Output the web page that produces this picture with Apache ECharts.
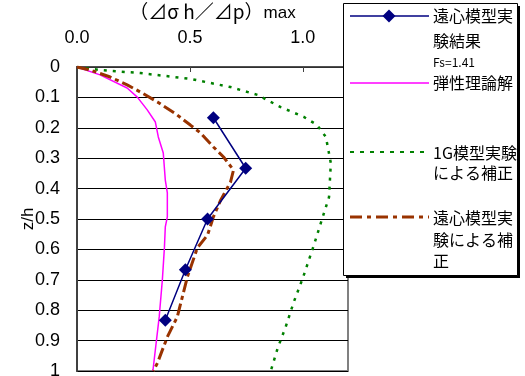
<!DOCTYPE html>
<html>
<head>
<meta charset="utf-8">
<script src="https://cdn.jsdelivr.net/npm/echarts@6/dist/echarts.min.js"></script>
<style>
  html, body { margin: 0; padding: 0; background: #fff; }
  #chart { width: 525px; height: 376px; }
</style>
</head>
<body>
<div id="chart"></div>
<script>
// 遠心模型実験結果 Fs=1.41
const centZ = [0.167, 0.333, 0.5, 0.667, 0.833]
const centX = [0.604, 0.747, 0.578, 0.48, 0.391]

// 弾性理論解
const elasZ = [0, 0.026, 0.069, 0.099, 0.141, 0.181, 0.23, 0.283, 0.372, 0.414, 0.493, 0.526, 0.595, 0.7, 0.822, 1.0]
const elasX = [0, 0.102, 0.222, 0.267, 0.311, 0.347, 0.36, 0.382, 0.391, 0.4, 0.4, 0.391, 0.387, 0.378, 0.364, 0.336]

// 1G模型実験による補正
const oneGZ = [0, 0.01, 0.02, 0.039, 0.066, 0.092, 0.132, 0.164, 0.19, 0.23, 0.316, 0.428, 0.503, 0.586, 0.694, 0.773, 0.855, 0.924, 1.0]
const oneGX = [0, 0.102, 0.28, 0.502, 0.68, 0.8, 0.902, 1.004, 1.062, 1.102, 1.124, 1.116, 1.084, 1.049, 1.0, 0.96, 0.924, 0.889, 0.858]

// 遠心模型実験による補正
const corrZ = [0, 0.01, 0.033, 0.059, 0.082, 0.115, 0.158, 0.191, 0.217, 0.263, 0.296, 0.339, 0.378, 0.438, 0.493, 0.553, 0.595, 0.69, 0.822, 0.888, 0.974, 1.0]
const corrX = [0, 0.058, 0.147, 0.222, 0.28, 0.356, 0.444, 0.502, 0.547, 0.604, 0.649, 0.693, 0.68, 0.636, 0.604, 0.578, 0.533, 0.489, 0.444, 0.4, 0.356, 0.338]

const pairs = (xs, zs) => xs.map((x, i) => [x, zs[i]])

const jp = '"Noto Sans CJK JP", sans-serif'
const num = '"Liberation Sans", Arial, sans-serif'

const chart = echarts.init(document.getElementById('chart'))

const legendText = (x, y, text, size) => ({
  type: 'text', x: x, y: y, z: 20,
  style: { text: text, fill: '#000', font: (size || 16) + 'px ' + jp, textVerticalAlign: 'middle' }
})

chart.setOption({
  animation: false,
  grid: {
    left: 77, top: 67, right: 177, bottom: 5,
    outerBoundsMode: 'none',
    show: true, borderColor: '#808080', borderWidth: 2
  },
  xAxis: {
    type: 'value', position: 'top',
    min: 0, max: 1.2, interval: 0.5,
    name: '{a|（⊿σ h／⊿p）}{b|max}',
    nameLocation: 'middle', nameGap: 45, nameMoveOverlap: false,
    nameTextStyle: {
      rich: {
        a: { fontSize: 19, fontFamily: jp, color: '#000' },
        b: { fontSize: 17, fontFamily: num, color: '#000', padding: [3, 0, 0, 0] }
      }
    },
    axisLine: { lineStyle: { color: '#404040', width: 1.5 } },
    axisTick: { show: true, inside: true, length: 5, lineStyle: { color: '#404040' } },
    axisLabel: {
      showMaxLabel: false, margin: 20, fontSize: 18, fontFamily: num, color: '#000',
      formatter: v => v.toFixed(1)
    },
    splitLine: { show: false }
  },
  yAxis: {
    type: 'value', inverse: true,
    min: 0, max: 1, interval: 0.1,
    name: 'z/h', nameLocation: 'middle', nameGap: 40, nameRotate: 90, nameMoveOverlap: false,
    nameTextStyle: { fontSize: 17, fontFamily: num, color: '#000' },
    axisLine: { lineStyle: { color: '#404040', width: 2 } },
    axisTick: { show: false },
    axisLabel: {
      margin: 17, fontSize: 18, fontFamily: num, color: '#000',
      formatter: v => (v === 0 ? '0' : Math.abs(v - 1) < 1e-9 ? '1' : v.toFixed(1))
    },
    splitLine: { show: true, lineStyle: { color: '#000', width: 1 } }
  },
  series: [
    {
      name: '1G模型実験による補正', type: 'line', data: pairs(oneGX, oneGZ),
      showSymbol: false, smooth: false,
      lineStyle: { color: '#008000', width: 2.5, type: [3, 6] }
    },
    {
      name: '弾性理論解', type: 'line', data: pairs(elasX, elasZ),
      showSymbol: false,
      lineStyle: { color: '#ff00ff', width: 1.5 }
    },
    {
      name: '遠心模型実験による補正', type: 'line', data: pairs(corrX, corrZ),
      showSymbol: false,
      lineStyle: { color: '#993300', width: 3, type: [12, 4, 4, 4] }
    },
    {
      name: '遠心模型実験結果', type: 'line', data: pairs(centX, centZ),
      symbol: 'diamond', symbolSize: 13,
      itemStyle: { color: '#000080' },
      lineStyle: { color: '#000080', width: 1.5 }
    }
  ],
  graphic: [
    { type: 'rect', z: 10, shape: { x: 346, y: 6, width: 174, height: 272 }, style: { fill: '#000' } },
    { type: 'rect', z: 11, shape: { x: 343.5, y: 3.5, width: 174, height: 272 }, style: { fill: '#fff', stroke: '#000', lineWidth: 1 } },
    { type: 'line', z: 20, shape: { x1: 350, y1: 16, x2: 429, y2: 16 }, style: { stroke: '#000080', lineWidth: 1.5 } },
    { type: 'polygon', z: 21, shape: { points: [[389, 9.5], [395.5, 16], [389, 22.5], [382.5, 16]] }, style: { fill: '#000080' } },
    { type: 'line', z: 20, shape: { x1: 350, y1: 83, x2: 429, y2: 83 }, style: { stroke: '#ff00ff', lineWidth: 1.5 } },
    { type: 'line', z: 20, shape: { x1: 350, y1: 152, x2: 429, y2: 152 }, style: { stroke: '#008000', lineWidth: 2, lineDash: [4, 6] } },
    { type: 'line', z: 20, shape: { x1: 350, y1: 217, x2: 429, y2: 217 }, style: { stroke: '#993300', lineWidth: 3, lineDash: [12, 5, 4, 5] } },
    legendText(433, 16, '遠心模型実'),
    legendText(433, 41, '験結果'),
    legendText(433, 62, 'Fs=1.41', 12),
    legendText(433, 83, '弾性理論解'),
    legendText(433, 153, '1G模型実験'),
    legendText(433, 173, 'による補正'),
    legendText(433, 218, '遠心模型実'),
    legendText(433, 240, '験による補'),
    legendText(433, 261, '正')
  ]
})
</script>
</body>
</html>
